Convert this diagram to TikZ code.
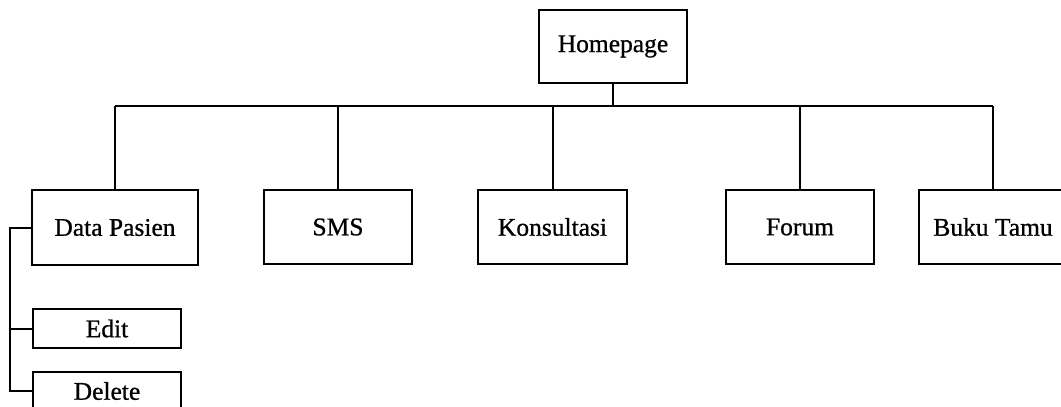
\documentclass[tikz,border=0pt]{standalone}
\usepackage{fontspec}
\setmainfont{Liberation Serif}
\newfontfamily\heavyserif[FakeBold=0.8]{Liberation Serif}
\begin{document}
\begin{tikzpicture}[x=1pt,y=-1pt,
  box/.style={draw,line width=2pt,rectangle,inner sep=0pt,font=\heavyserif\fontsize{25.5}{28}\selectfont},
  big/.style={box,minimum width=148pt,minimum height=74pt},
  small/.style={box,minimum width=148pt,minimum height=39pt},
  conn/.style={line width=2pt}]
\useasboundingbox (0,0) rectangle (1061,407);
\begin{scope}
\clip (0,0) rectangle (1061,407);
\node[big,minimum height=73pt] (home) at (613,46.5) {Homepage};
\node[big,minimum width=166pt,minimum height=75pt] (dp) at (115,227.5) {Data Pasien};
\node[big] (sms) at (338,227) {SMS};
\node[big,minimum width=149pt] (kon) at (552.5,227) {Konsultasi};
\node[big] (forum) at (800,227) {Forum};
\node[big] (buku) at (993,227) {Buku Tamu};
\node[small] (edit) at (107,328.5) {Edit};
\node[small] (del) at (107,391) {Delete};
\coordinate (busL) at (115,106);
\coordinate (busR) at (993,106);
\coordinate (lx) at (10,0);
\draw[conn] (busL) -- (busR);
\draw[conn] (home.south) -- (home.south |- busL);
\draw[conn] (dp.north) -- (dp.north |- busL);
\draw[conn] (sms.north) -- (sms.north |- busL);
\draw[conn] (kon.north) -- (kon.north |- busL);
\draw[conn] (forum.north) -- (forum.north |- busL);
\draw[conn] (buku.north) -- (buku.north |- busR);
\draw[conn] (dp.west) -- (dp.west -| lx) |- (del.west);
\draw[conn] (edit.west) -- (edit.west -| lx);
\end{scope}
\end{tikzpicture}
\end{document}
